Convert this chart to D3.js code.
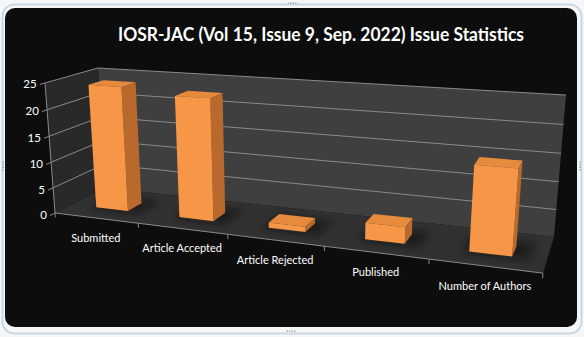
<!DOCTYPE html>
<html>
<head>
<meta charset="utf-8">
<script src="https://cdn.jsdelivr.net/npm/d3@7"></script>
<style>
  html, body { margin: 0; padding: 0; background: #f4f6f8; }
  svg { display: block; }
</style>
</head>
<body>
<script>
// chart data
const categories = ["Submitted", "Article Accepted", "Article Rejected", "Published", "Number of Authors"];
const values = [24, 23, 1, 3, 15];
const yTicks = [0, 5, 10, 15, 20, 25];
const title = "IOSR-JAC (Vol 15, Issue 9, Sep. 2022) Issue Statistics";

const W = 584, H = 337;
const svg = d3.select("body").append("svg")
    .attr("width", W)
    .attr("height", H);

// perspective: origin (front-bottom-left) and vanishing points of x, y, z
const O = [55, 213], VPX = [-2200, -65], VPY = [294, 3317], VPZ = [653, -89];
const ka = -0.1779, kb = -0.0402, kc = 0.0917;
function proj(X, Y, Z) {
    const hx = O[0] + ka * X * VPX[0] + kb * Y * VPY[0] + kc * Z * VPZ[0];
    const hy = O[1] + ka * X * VPX[1] + kb * Y * VPY[1] + kc * Z * VPZ[1];
    const hw = 1 + ka * X + kb * Y + kc * Z;
    return [hx / hw, hy / hw];
}

// scales into the unit box
const x = d3.scaleBand().domain(categories).range([0, 1]).paddingInner(0.61).paddingOuter(0.305);
const y = d3.scaleLinear().domain([0, 25]).range([0, 1]);
const z0 = 0.32, z1 = 0.61; // bar depth

const line = d3.line();
function poly(pts) { return line(pts.map(p => proj(p[0], p[1], p[2]))) + "Z"; }

const defs = svg.append("defs");
defs.append("filter").attr("id", "blur")
    .attr("x", "-50%").attr("y", "-50%").attr("width", "200%").attr("height", "200%")
    .append("feGaussianBlur").attr("stdDeviation", 3.5);

// chart area frame
svg.append("rect")
    .attr("x", 2.5).attr("y", 4.5).attr("width", W - 5).attr("height", H - 8)
    .attr("rx", 12).attr("fill", "none").attr("stroke", "#c9d7e4").attr("stroke-width", 2);
svg.append("rect")
    .attr("x", 5).attr("y", 8).attr("width", 572).attr("height", 319)
    .attr("rx", 10).attr("fill", "#0d0d0d");

// resize handles
const handles = [[292, 3, 1, 0], [291, 331, 1, 0], [3, 166, 0, 1], [580, 166, 0, 1]];
handles.forEach(h => {
    for (let i = -1.5; i <= 1.5; i++) {
        svg.append("rect")
            .attr("x", h[0] + i * 2.5 * h[2] - 0.5).attr("y", h[1] + i * 2.5 * h[3] - 0.5)
            .attr("width", 1.2).attr("height", 1.2).attr("fill", "#7a8a99");
    }
});

// walls and floor
svg.append("path").attr("d", poly([[0, 0, 1], [1, 0, 1], [1, 1, 1], [0, 1, 1]])).attr("fill", "#3f3f3f");
svg.append("path").attr("d", poly([[0, 0, 0], [0, 0, 1], [0, 1, 1], [0, 1, 0]])).attr("fill", "#292929");
svg.append("path").attr("d", poly([[0, 0, 0], [1, 0, 0], [1, 0, 1], [0, 0, 1]])).attr("fill", "#313131");

// gridlines on back and left wall
yTicks.forEach(t => {
    const Y = y(t);
    const pts = [[0, Y, 0], [0, Y, 1], [1, Y, 1]].map(p => proj(p[0], p[1], p[2]));
    if (t > 0) {
        svg.append("path").attr("d", line(pts))
            .attr("fill", "none").attr("stroke", "#8a8a8a").attr("stroke-width", 1);
    }
    // tick mark
    svg.append("path").attr("d", line([proj(0, Y, 0), proj(0, Y, -0.09)]))
        .attr("stroke", "#8a8a8a").attr("stroke-width", 1);
    const p = proj(0, Y, -0.09);
    svg.append("text")
        .attr("x", p[0] - 3).attr("y", p[1] + 1)
        .attr("text-anchor", "end").attr("dominant-baseline", "middle")
        .attr("font-family", "Lato, 'Open Sans', sans-serif").attr("font-size", 11.5)
        .attr("fill", "#ffffff").text(t);
});

// axis lines
svg.append("path").attr("d", line([proj(0, 1, 0), proj(0, 0, 0), proj(1, 0, 0)]))
    .attr("fill", "none").attr("stroke", "#8a8a8a").attr("stroke-width", 1);

// category ticks
d3.range(categories.length + 1).forEach(i => {
    const X = i * x.step();
    svg.append("path").attr("d", line([proj(X, 0, 0), proj(X, -0.035, 0)]))
        .attr("stroke", "#8a8a8a").attr("stroke-width", 1);
});

// shadows on the floor
const bars = categories.map((c, i) => ({ c: c, v: values[i], x0: x(c), x1: x(c) + x.bandwidth() }));
svg.append("g").selectAll("path").data(bars).enter().append("path")
    .attr("d", d => poly([[d.x0 - 0.01, 0, z0 - 0.04], [d.x1 + 0.03, 0, z0 - 0.04],
        [d.x1 + 0.03, 0, z1 + 0.12], [d.x0 - 0.01, 0, z1 + 0.12]]))
    .attr("fill", "#0a0a0a").attr("opacity", 0.55).attr("filter", "url(#blur)");

// bars
const g = svg.append("g").selectAll("g").data(bars).enter().append("g");
g.append("path")
    .attr("d", d => poly([[d.x1, 0, z0], [d.x1, 0, z1], [d.x1, y(d.v), z1], [d.x1, y(d.v), z0]]))
    .attr("fill", "#b8692b");
g.append("path")
    .attr("d", d => poly([[d.x0, y(d.v), z0], [d.x1, y(d.v), z0], [d.x1, y(d.v), z1], [d.x0, y(d.v), z1]]))
    .attr("fill", "#e68a3c");
g.append("path")
    .attr("d", d => poly([[d.x0, 0, z0], [d.x1, 0, z0], [d.x1, y(d.v), z0], [d.x0, y(d.v), z0]]))
    .attr("fill", "#f89647");

// category labels
bars.forEach(d => {
    const p = proj(x(d.c) + x.bandwidth() / 2, 0, 0);
    svg.append("text")
        .attr("x", p[0]).attr("y", p[1] + 21)
        .attr("text-anchor", "middle").attr("dominant-baseline", "middle")
        .attr("font-family", "Lato, 'Open Sans', sans-serif").attr("font-size", 11)
        .attr("fill", "#ffffff").text(d.c);
});

// title
svg.append("text")
    .attr("x", 321).attr("y", 41)
    .attr("text-anchor", "middle")
    .attr("font-family", "Lato, 'Open Sans', sans-serif").attr("font-weight", "bold")
    .attr("font-size", 18)
    .attr("textLength", 406).attr("lengthAdjust", "spacingAndGlyphs")
    .attr("fill", "#ffffff").text(title);
</script>
</body>
</html>
